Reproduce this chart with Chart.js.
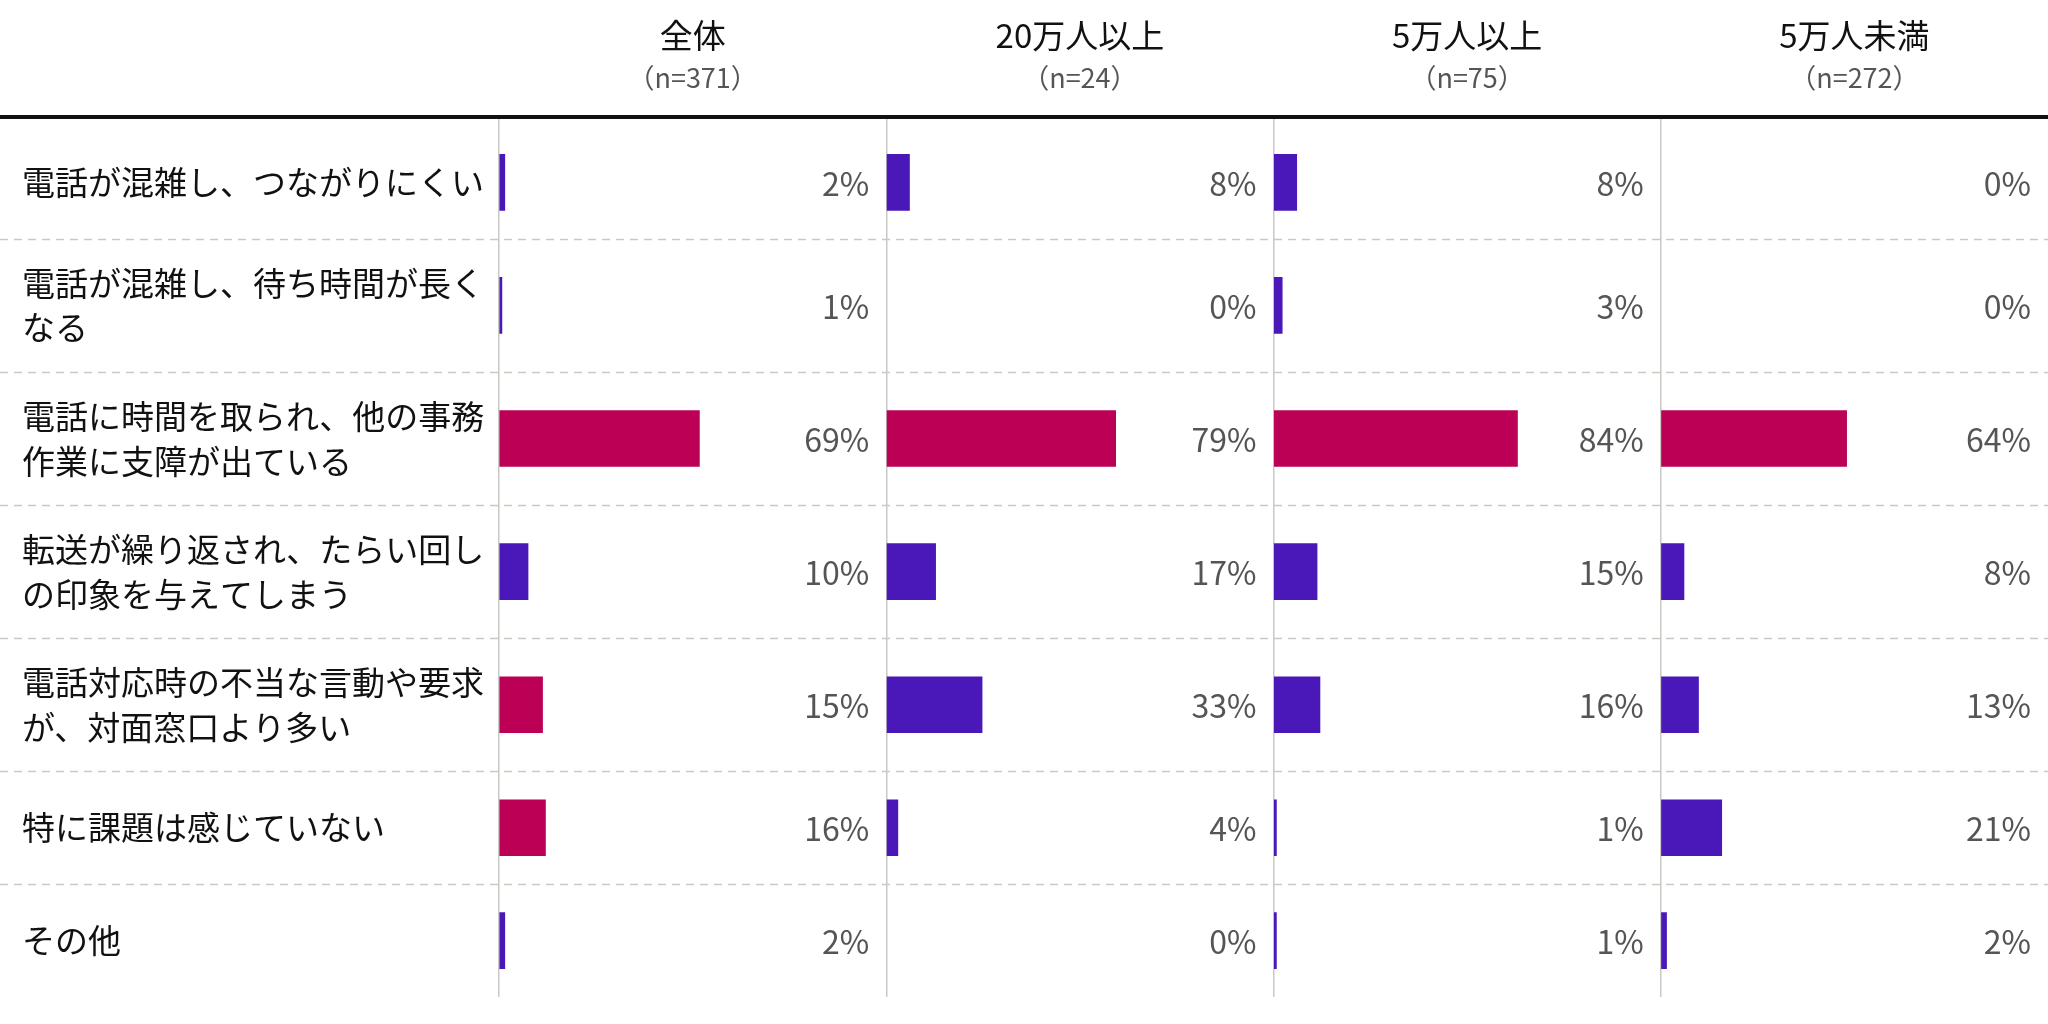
<!DOCTYPE html>
<html lang="ja">
<head>
<meta charset="utf-8">
<script src="https://cdn.jsdelivr.net/npm/chart.js@4/dist/chart.umd.min.js"></script>
<style>
  html, body { margin: 0; padding: 0; background: #fff; }
  #wrap { width: 2048px; height: 1024px; }
</style>
</head>
<body>
<div id="wrap"><canvas id="c" width="2048" height="1024"></canvas></div>
<script>
// ---- data ----
const categories = [
  ['電話が混雑し、つながりにくい'],
  ['電話が混雑し、待ち時間が長く', 'なる'],
  ['電話に時間を取られ、他の事務', '作業に支障が出ている'],
  ['転送が繰り返され、たらい回し', 'の印象を与えてしまう'],
  ['電話対応時の不当な言動や要求', 'が、対面窓口より多い'],
  ['特に課題は感じていない'],
  ['その他']
];
const groups = ['全体', '20万人以上', '5万人以上', '5万人未満'];
const groupN = [371, 24, 75, 272];
const valuesAll   = [2, 1, 69, 10, 15, 16, 2];
const values20man = [8, 0, 79, 17, 33, 4, 0];
const values5man  = [8, 3, 84, 15, 16, 1, 1];
const valuesUnder = [0, 0, 64, 8, 13, 21, 2];
const seriesValues = [valuesAll, values20man, values5man, valuesUnder];

// ---- styles / layout ----
const PURPLE = '#4A17B8';
const MAGENTA = '#BC0055';
const accentRows = [[2, 4, 5], [2], [2], [2]]; // rows drawn in accent colour per column
const FONT = '"Noto Sans CJK JP", "Noto Sans", sans-serif';
const EXTRA_LINE_WEIGHT = 0.18; // a row with a two-line label is taller, like a table row
const HEADER_GAP = 0.08;        // small gap between the header rule and the first row

// row bands on the category (y) scale: each row's weight follows its label's line count
const rowWeights = categories.map(c => 1 + EXTRA_LINE_WEIGHT * (c.length - 1));
const rowStarts = [];
rowWeights.reduce((acc, w) => { rowStarts.push(acc); return acc + w; }, 0);
const rowCenters = rowWeights.map((w, i) => rowStarts[i] + w / 2);
const rowTotal = rowWeights.reduce((a, b) => a + b, 0);

const datasets = seriesValues.map((vals, k) => ({
  label: groups[k],
  data: vals.map((v, i) => ({ x: v, y: rowCenters[i] })),
  xAxisID: 'x' + k,
  yAxisID: 'y',
  grouped: false,
  barThickness: 56,
  borderWidth: 0,
  backgroundColor: vals.map((v, i) => v === 0 ? 'rgba(0,0,0,0)' : (accentRows[k].includes(i) ? MAGENTA : PURPLE))
}));

// top-stacked axes are laid out in reverse insertion order, so register them last-to-first
const xScales = {};
for (let k = groups.length - 1; k >= 0; k--) {
  xScales['x' + k] = {
    type: 'linear',
    position: 'top',
    stack: 'cols',
    stackWeight: 1,
    min: 0,
    max: 400 / 3,
    afterFit: s => { s.height = 117; },
    afterBuildTicks: s => { s.ticks = [{ value: 0 }]; },
    ticks: { display: false },
    border: { display: false },
    grid: { color: '#c8c8c4', lineWidth: 1.5, drawTicks: false }
  };
}

const decor = {
  id: 'decor',
  beforeDatasetsDraw(chart) {
    const ctx = chart.ctx;
    const y = chart.scales.y;
    ctx.save();
    ctx.strokeStyle = '#c9c9c0';
    ctx.lineWidth = 1.5;
    ctx.setLineDash([8, 6]);
    for (let i = 1; i < rowStarts.length; i++) {
      const py = Math.round(y.getPixelForValue(rowStarts[i])) + 0.5;
      ctx.beginPath();
      ctx.moveTo(0, py);
      ctx.lineTo(chart.width, py);
      ctx.stroke();
    }
    ctx.restore();
  },
  afterDraw(chart) {
    const ctx = chart.ctx;
    const area = chart.chartArea;
    ctx.save();
    // header rule
    ctx.fillStyle = '#111';
    ctx.fillRect(0, area.top - 2, chart.width, 4);
    // headers
    ctx.textAlign = 'center';
    ctx.textBaseline = 'middle';
    groups.forEach((g, k) => {
      const s = chart.scales['x' + k];
      const cx = (s.left + s.right) / 2;
      ctx.fillStyle = '#111';
      ctx.font = '33px ' + FONT;
      ctx.fillText(g, cx, 35);
      ctx.fillStyle = '#555';
      ctx.font = '27px ' + FONT;
      ctx.fillText('（n=' + groupN[k] + '）', cx, 78);
    });
    // value labels
    ctx.textAlign = 'right';
    ctx.fillStyle = '#555';
    ctx.font = '32px ' + FONT;
    seriesValues.forEach((vals, k) => {
      const s = chart.scales['x' + k];
      const meta = chart.getDatasetMeta(k);
      vals.forEach((v, i) => {
        ctx.fillText(v + '%', s.right - 17, meta.data[i].y + 1);
      });
    });
    ctx.restore();
  }
};

new Chart(document.getElementById('c'), {
  type: 'bar',
  data: { datasets },
  options: {
    indexAxis: 'y',
    responsive: false,
    animation: false,
    devicePixelRatio: 1,
    layout: { padding: { left: 22, right: 0, top: 0, bottom: 27 } },
    plugins: { legend: { display: false }, tooltip: { enabled: false } },
    scales: Object.assign({
      y: {
        type: 'linear',
        position: 'left',
        reverse: true,
        offset: false,
        grace: 0,
        min: -HEADER_GAP,
        max: rowTotal,
        afterFit: s => { s.width = 477; },
        afterBuildTicks: s => { s.ticks = rowCenters.map(v => ({ value: v })); },
        grid: { display: false },
        border: { display: false },
        ticks: {
          autoSkip: false,
          crossAlign: 'far',
          color: '#111',
          padding: 0,
          font: { family: FONT, size: 33, lineHeight: 1.36 },
          callback: (val, idx) => categories[idx]
        }
      }
    }, xScales)
  },
  plugins: [decor]
});
</script>
</body>
</html>
